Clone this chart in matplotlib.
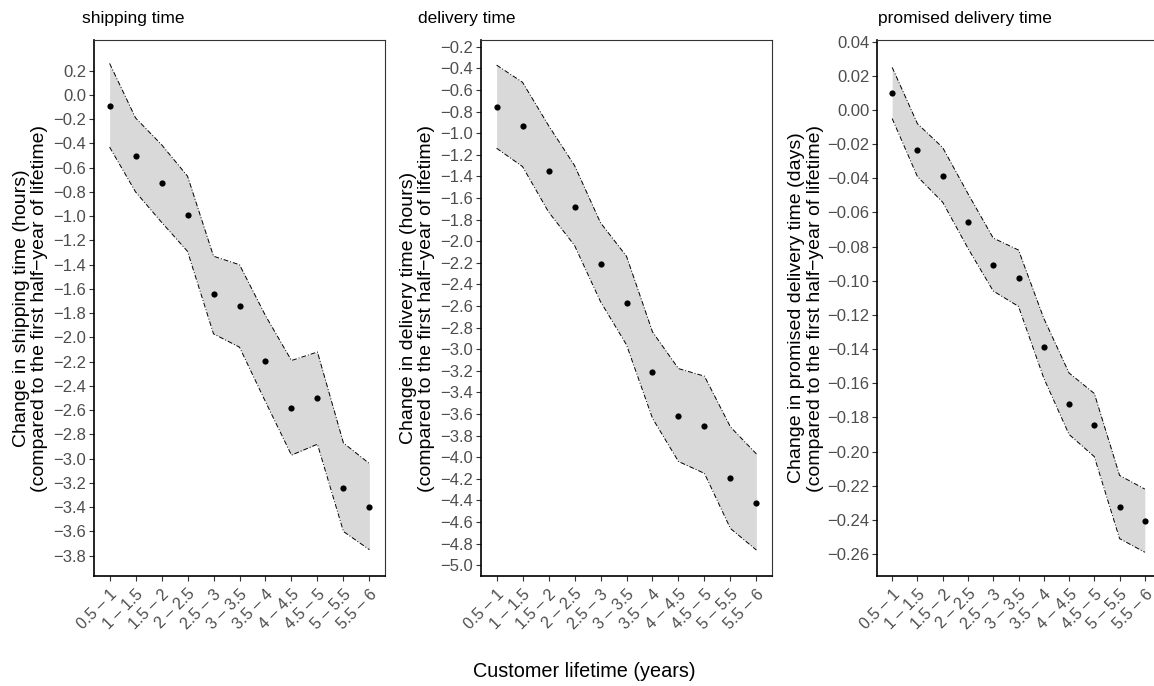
import matplotlib
matplotlib.use("Agg")
import matplotlib.pyplot as plt
from matplotlib.ticker import FixedLocator, FuncFormatter

plt.rcParams['font.family'] = ['Liberation Sans', 'DejaVu Sans']

categories = ["0.5 – 1", "1 – 1.5", "1.5 – 2", "2 – 2.5", "2.5 – 3", "3 – 3.5",
              "3.5 – 4", "4 – 4.5", "4.5 – 5", "5 – 5.5", "5.5 – 6"]

ship_est = [-0.09, -0.50, -0.73, -0.99, -1.64, -1.74, -2.19, -2.58, -2.50, -3.24, -3.40]
ship_hi = [0.26, -0.19, -0.41, -0.67, -1.33, -1.40, -1.82, -2.19, -2.12, -2.87, -3.04]
ship_lo = [-0.43, -0.80, -1.05, -1.29, -1.97, -2.08, -2.53, -2.97, -2.88, -3.60, -3.75]

del_est = [-0.756, -0.934, -1.348, -1.687, -2.215, -2.57, -3.21, -3.617, -3.71, -4.19, -4.42]
del_hi = [-0.37, -0.53, -0.93, -1.30, -1.83, -2.14, -2.84, -3.18, -3.25, -3.72, -3.97]
del_lo = [-1.14, -1.31, -1.73, -2.04, -2.56, -2.96, -3.64, -4.04, -4.15, -4.66, -4.86]

prom_est = [0.010, -0.0235, -0.0385, -0.0656, -0.0905, -0.0985, -0.139, -0.172, -0.1845, -0.2326, -0.2405]
prom_hi = [0.025, -0.008, -0.022, -0.049, -0.075, -0.082, -0.122, -0.154, -0.166, -0.214, -0.222]
prom_lo = [-0.005, -0.039, -0.054, -0.081, -0.106, -0.115, -0.157, -0.190, -0.203, -0.251, -0.259]

titles = ["shipping time", "delivery time", "promised delivery time"]
ylabels = ["Change in shipping time (hours)\n(compared to the first half\u2212year of lifetime)",
           "Change in delivery time (hours)\n(compared to the first half\u2212year of lifetime)",
           "Change in promised delivery time (days)\n(compared to the first half\u2212year of lifetime)"]
yticks_list = [[round(0.2 - 0.2 * i, 2) for i in range(21)],
               [round(-0.2 - 0.2 * i, 2) for i in range(25)],
               [round(0.04 - 0.02 * i, 2) for i in range(16)]]
ylims = [(-3.967, 0.453), (-5.10, -0.138), (-0.2729, 0.041)]
decimals = [1, 1, 2]
xlabel = "Customer lifetime (years)"

W, H = 1154, 686
fig = plt.figure(figsize=(W / 100, H / 100), dpi=100)

# panel boxes in pixels: left, right, top, bottom
boxes = [(94, 385, 40, 576), (481, 772, 40, 576), (877, 1160, 40, 576)]
title_x = [82, 418, 878]
ylabel_x = [30.4, 417.3, 806]

series = [(ship_est, ship_lo, ship_hi), (del_est, del_lo, del_hi), (prom_est, prom_lo, prom_hi)]
x = list(range(len(categories)))
tick_grey = '#4D4D4D'

for i, (est, lo, hi) in enumerate(series):
    l, r, t, b = boxes[i]
    ax = fig.add_axes([l / W, (H - b) / H, (r - l) / W, (b - t) / H])
    ax.fill_between(x, lo, hi, color='#D9D9D9', lw=0, zorder=1)
    ax.plot(x, hi, color='black', lw=0.7, ls=(0, (5, 2, 1, 2)), zorder=2)
    ax.plot(x, lo, color='black', lw=0.7, ls=(0, (5, 2, 1, 2)), zorder=2)
    ax.scatter(x, est, s=20, color='black', zorder=3, linewidths=0)
    ax.set_xlim(-0.6, len(categories) - 1 + 0.6)
    ax.set_ylim(*ylims[i])
    ax.set_xticks(x)
    ax.set_xticklabels(categories, rotation=45, ha='right', va='top',
                       rotation_mode='anchor', fontsize=11.5, color=tick_grey)
    ax.yaxis.set_major_locator(FixedLocator(yticks_list[i]))
    d = decimals[i]
    ax.yaxis.set_major_formatter(FuncFormatter(
        lambda v, p, d=d: (f"{v:.{d}f}").replace('-', '\u2212') if round(v, d) != 0 else f"{0:.{d}f}"))
    ax.tick_params(axis='y', labelsize=12, labelcolor=tick_grey, length=3.5, width=0.8,
                   color='#333333', pad=2)
    ax.tick_params(axis='x', length=3.5, width=0.8, color='#333333', pad=4)
    for s in ['left', 'bottom']:
        ax.spines[s].set_color('black')
        ax.spines[s].set_linewidth(1.2)
    for s in ['top', 'right']:
        ax.spines[s].set_color('#333333')
        ax.spines[s].set_linewidth(0.8)
    fig.text(title_x[i] / W, (H - 23.5) / H, titles[i], fontsize=12.5,
             ha='left', va='baseline', color='black')
    fig.text(ylabel_x[i] / W, (H - (t + b) / 2) / H, ylabels[i], fontsize=14,
             rotation=90, ha='center', va='center', multialignment='center',
             linespacing=1.1, color='black')

fig.text(584.7 / W, 14.3 / H, xlabel, fontsize=14.3, ha='center', va='center')

fig.savefig("out.png", dpi=100)
